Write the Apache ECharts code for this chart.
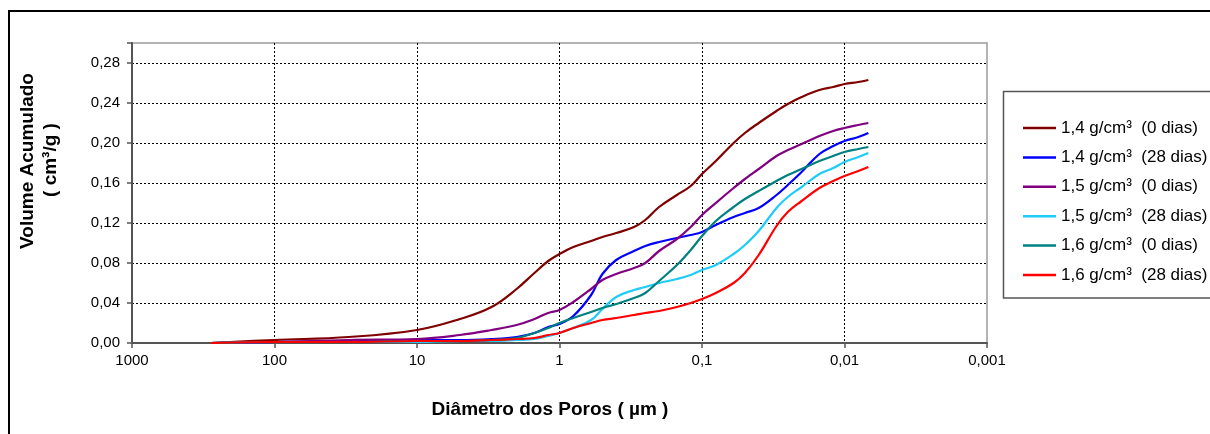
<!DOCTYPE html>
<html>
<head>
<meta charset="utf-8">
<script src="https://cdn.jsdelivr.net/npm/echarts@6/dist/echarts.min.js"></script>
<style>
html,body{margin:0;padding:0;background:#fff;}
#chart{width:1210px;height:434px;}
</style>
</head>
<body>
<div id="chart"></div>
<script>
// Pore diameters (µm)
const diameters = [280, 100, 30, 10, 5, 3, 2, 1.5, 1.2, 1, 0.8, 0.6, 0.5, 0.4, 0.3, 0.25, 0.2, 0.15, 0.12, 0.1, 0.08, 0.06, 0.05, 0.04, 0.03, 0.025, 0.02, 0.015, 0.012, 0.01, 0.008, 0.0068];

// Cumulative volume (cm³/g)
const s14_0  = [0.000, 0.003, 0.006, 0.013, 0.024, 0.036, 0.054, 0.070, 0.082, 0.089, 0.096, 0.102, 0.106, 0.110, 0.116, 0.123, 0.136, 0.148, 0.157, 0.169, 0.182, 0.200, 0.210, 0.220, 0.232, 0.239, 0.246, 0.253, 0.256, 0.259, 0.261, 0.263];
const s14_28 = [0.000, 0.001, 0.002, 0.003, 0.003, 0.004, 0.006, 0.010, 0.016, 0.019, 0.027, 0.048, 0.069, 0.083, 0.092, 0.097, 0.101, 0.105, 0.108, 0.111, 0.118, 0.126, 0.130, 0.135, 0.148, 0.158, 0.171, 0.189, 0.197, 0.202, 0.206, 0.210];
const s15_0  = [0.000, 0.001, 0.003, 0.004, 0.008, 0.013, 0.018, 0.024, 0.030, 0.033, 0.041, 0.054, 0.063, 0.069, 0.075, 0.080, 0.092, 0.104, 0.116, 0.128, 0.140, 0.155, 0.164, 0.174, 0.187, 0.193, 0.199, 0.207, 0.212, 0.215, 0.218, 0.220];
const s15_28 = [0.000, 0.001, 0.001, 0.001, 0.002, 0.002, 0.003, 0.004, 0.007, 0.010, 0.015, 0.023, 0.034, 0.046, 0.053, 0.056, 0.060, 0.064, 0.068, 0.073, 0.078, 0.089, 0.098, 0.112, 0.135, 0.146, 0.156, 0.169, 0.175, 0.181, 0.186, 0.190];
const s16_0  = [0.000, 0.001, 0.001, 0.002, 0.002, 0.003, 0.005, 0.010, 0.015, 0.020, 0.025, 0.031, 0.035, 0.039, 0.045, 0.050, 0.062, 0.078, 0.093, 0.107, 0.122, 0.136, 0.144, 0.152, 0.162, 0.168, 0.174, 0.182, 0.187, 0.191, 0.194, 0.196];
const s16_28 = [0.000, 0.001, 0.001, 0.002, 0.002, 0.003, 0.004, 0.005, 0.008, 0.010, 0.015, 0.020, 0.023, 0.025, 0.028, 0.030, 0.032, 0.036, 0.040, 0.044, 0.050, 0.060, 0.070, 0.088, 0.117, 0.131, 0.142, 0.155, 0.162, 0.167, 0.172, 0.176];

const seriesNames = ['1,4 g/cm³  (0 dias)', '1,4 g/cm³  (28 dias)', '1,5 g/cm³  (0 dias)', '1,5 g/cm³  (28 dias)', '1,6 g/cm³  (0 dias)', '1,6 g/cm³  (28 dias)'];
const seriesColors = ['#800000', '#0000FF', '#800080', '#1ECCF7', '#008080', '#FF0000'];
const seriesValues = [s14_0, s14_28, s15_0, s15_28, s16_0, s16_28];

const xTickLabels = ['0,001', '0,01', '0,1', '1', '10', '100', '1000'];

const FONT = '"Liberation Sans", Arial, sans-serif';
const chart = echarts.init(document.getElementById('chart'));

const series = seriesNames.map((name, i) => ({
  name: name,
  type: 'line',
  data: diameters.map((d, k) => [d, seriesValues[i][k]]),
  smooth: 0.4,
  showSymbol: false,
  symbol: 'none',
  color: seriesColors[i],
  lineStyle: { color: seriesColors[i], width: 2.2 }
}));

chart.setOption({
  backgroundColor: '#fff',
  animation: false,
  grid: {
    left: 132, top: 43, right: 223, bottom: 91,
    show: true, borderColor: '#9a9a9a', borderWidth: 1.5, backgroundColor: '#fff'
  },
  xAxis: {
    type: 'log',
    logBase: 10,
    min: 0.001,
    max: 1000,
    inverse: true,
    splitNumber: 6,
    axisLine: { show: true, onZero: false, lineStyle: { color: '#555', width: 2 } },
    axisTick: { show: true, length: 5, lineStyle: { color: '#555', width: 1.5 } },
    minorTick: { show: false },
    axisLabel: {
      margin: 10,
      color: '#000',
      fontSize: 15,
      fontFamily: FONT,
      formatter: function (v) {
        const k = Math.round(Math.log10(v)) + 3;
        return xTickLabels[k] !== undefined ? xTickLabels[k] : '';
      }
    },
    splitLine: {
      show: true,
      lineStyle: {
        color: ['rgba(0,0,0,0)', '#000', '#000', '#000', '#000', '#000', '#000'],
        type: [2, 2], width: 1
      }
    }
  },
  yAxis: {
    type: 'value',
    min: 0,
    max: 0.30,
    interval: 0.04,
    axisLine: { show: true, lineStyle: { color: '#555', width: 2 } },
    axisTick: { show: true, length: 5, lineStyle: { color: '#555', width: 1.5 } },
    axisLabel: {
      margin: 12,
      color: '#000',
      fontSize: 15,
      fontFamily: FONT,
      formatter: function (v) {
        if (v > 0.29) return '';
        return v.toFixed(2).replace('.', ',');
      }
    },
    splitLine: {
      show: true,
      lineStyle: {
        color: ['#000', '#000', '#000', '#000', '#000', '#000', '#000', '#000', 'rgba(0,0,0,0)'],
        type: [2, 2], width: 1
      }
    }
  },
  legend: {
    orient: 'vertical',
    left: 1018,
    top: 113,
    icon: 'rect',
    itemWidth: 33,
    itemHeight: 2.5,
    itemGap: 9.4,
    data: seriesNames,
    textStyle: { color: '#000', fontSize: 17, lineHeight: 20, fontFamily: FONT }
  },
  graphic: [
    {
      type: 'rect', z: -10, silent: true,
      shape: { x: 9, y: 11, width: 1400, height: 600 },
      style: { fill: 'none', stroke: '#000', lineWidth: 2 }
    },
    {
      type: 'rect', z: -5, silent: true,
      shape: { x: 1003.5, y: 91.5, width: 300, height: 206.5 },
      style: { fill: '#fff', stroke: '#555', lineWidth: 1.5 }
    },
    {
      type: 'text', x: 28, y: 161, rotation: Math.PI / 2,
      style: { text: 'Volume Acumulado', fontSize: 19, fontWeight: 'bold', fontFamily: FONT, fill: '#000', textAlign: 'center', textVerticalAlign: 'middle' }
    },
    {
      type: 'text', x: 51, y: 160, rotation: Math.PI / 2,
      style: { text: '( cm³/g )', fontSize: 19, fontWeight: 'bold', fontFamily: FONT, fill: '#000', textAlign: 'center', textVerticalAlign: 'middle' }
    },
    {
      type: 'text', x: 550, y: 410,
      style: { text: 'Diâmetro dos Poros ( µm )', fontSize: 19, fontWeight: 'bold', fontFamily: FONT, fill: '#000', textAlign: 'center', textVerticalAlign: 'middle' }
    }
  ],
  series: series
});
</script>
</body>
</html>
